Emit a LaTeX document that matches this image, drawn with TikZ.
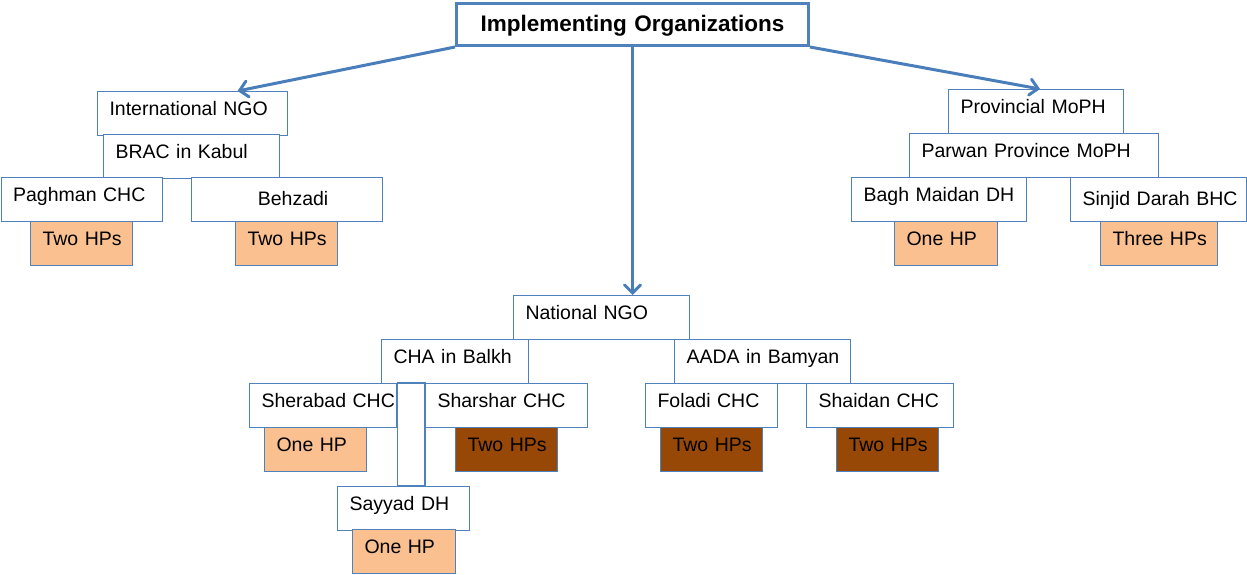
\documentclass[tikz,border=0pt]{standalone}
\usepackage{xcolor}
\usepackage{fontspec}
\usepackage{tikz}
\usetikzlibrary{arrows.meta}
\setmainfont{Liberation Sans}
\definecolor{boxblue}{RGB}{79,129,189}
\definecolor{arrowblue}{RGB}{74,126,187}
\definecolor{hporange}{RGB}{250,192,144}
\definecolor{hpbrown}{RGB}{151,72,6}

\tikzset{
  orgbox/.style={draw=boxblue, line width=1.1pt, fill=white, anchor=north west,
    inner sep=0pt, align=left, text height=24pt, text depth=20pt,
    execute at begin node={\hspace*{12pt}}},
  midbox/.style={align=center, text height=28pt, text depth=16pt,
    execute at begin node={}},
  lowtext/.style={text height=28pt, text depth=16pt},
  hpbox/.style={orgbox, fill=hporange},
  darkhp/.style={orgbox, fill=hpbrown},
  titlebox/.style={draw=boxblue, line width=3pt, fill=white, anchor=north west,
    inner sep=0pt, align=center, text height=28pt, text depth=14pt,
    font=\fontsize{22.5}{27}\selectfont\bfseries},
  arr/.style={draw=arrowblue, line width=3pt,
    -{Straight Barb[length=8pt,width=16pt,line cap=round]}}
}

\begin{document}
\begin{tikzpicture}[x=1pt,y=-1pt,font=\fontsize{19.5}{23}\selectfont]
\useasboundingbox (0,0) rectangle (1247,574);
% Top box
\node[titlebox, text width=352pt] (top) at (455,2) {Implementing Organizations};
% International NGO branch
\node[orgbox, text width=190pt] (intl) at (97,91) {International NGO};
\node[orgbox, text width=176pt] (brac) at (103,134) {BRAC in Kabul};
\node[orgbox, text width=161pt] (paghman) at (0.6,177) {Paghman CHC};
\node[orgbox, midbox, text width=191pt] (behzadi) at (191,177) {Behzadi};
\node[hpbox, text width=102pt] (paghmanhp) at (30,221) {Two HPs};
\node[hpbox, text width=102pt] (behzadihp) at (235,221) {Two HPs};
% Provincial MoPH branch
\node[orgbox, text width=175pt] (prov) at (948,89) {Provincial MoPH};
\node[orgbox, text width=249pt] (parwan) at (909,133) {Parwan Province MoPH};
\node[orgbox, text width=175pt] (bagh) at (851,177) {Bagh Maidan DH};
\node[orgbox, lowtext, text width=176pt] (sinjid) at (1070,177) {Sinjid Darah BHC};
\node[hpbox, text width=103pt] (baghhp) at (894,221) {One HP};
\node[hpbox, text width=117pt] (sinjidhp) at (1100,221) {Three HPs};
% National NGO branch
\node[orgbox, text width=176pt] (natl) at (513,295) {National NGO};
\node[orgbox, text width=147pt] (cha) at (381,339) {CHA in Balkh};
\node[orgbox, text width=176pt] (aada) at (674,339) {AADA in Bamyan};
\node[orgbox, text width=147pt] (sherabad) at (249,383) {Sherabad CHC};
\node[orgbox, text width=162pt] (sharshar) at (425,383) {Sharshar CHC};
\node[hpbox, text width=102pt] (sherabadhp) at (264,427) {One HP};
\node[darkhp, text width=102pt] (sharsharhp) at (455,427) {Two HPs};
\node[orgbox, text width=132pt] (foladi) at (645,383) {Foladi CHC};
\node[orgbox, text width=147pt] (shaidan) at (806,383) {Shaidan CHC};
\node[darkhp, text width=102pt] (foladihp) at (660,427) {Two HPs};
\node[darkhp, text width=102pt] (shaidanhp) at (836,427) {Two HPs};
\node[orgbox, text width=132pt] (sayyad) at (337,486) {Sayyad DH};
\node[hpbox, text width=103pt] (sayyadhp) at (352,529) {One HP};
% Link down to Sayyad DH
\draw[draw=boxblue, line width=1.1pt] (sherabad.north east) rectangle (sharshar.west |- sayyad.north);
% Arrows
\draw[arr] (top.south west) -- ([xshift=45pt]intl.north);
\draw[arr] (top.south east) -- ([xshift=4pt]prov.north);
\draw[arr] (top.south) -- (top.south |- natl.north);
\end{tikzpicture}
\end{document}
